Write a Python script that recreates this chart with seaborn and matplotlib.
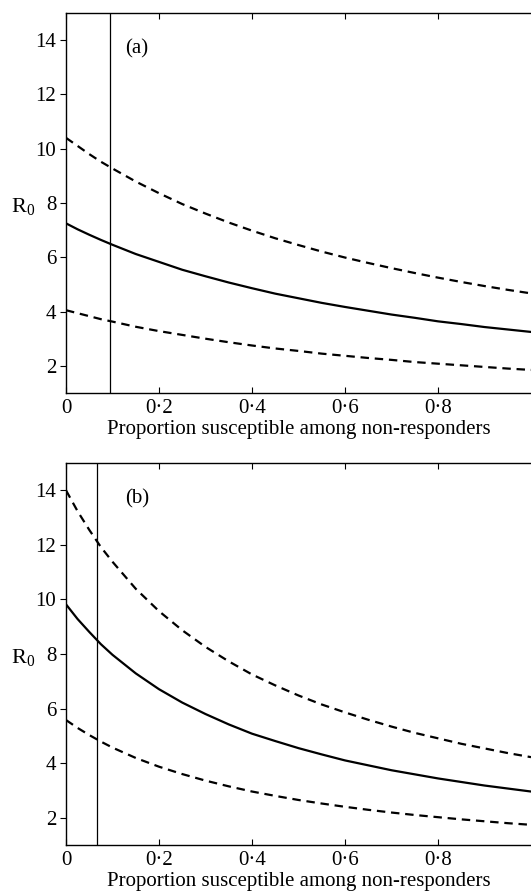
import numpy as np
import pandas as pd
import matplotlib
matplotlib.use("Agg")
import matplotlib.pyplot as plt
import seaborn as sns

# ---- data ----
x_vals = [0.0, 0.025, 0.05, 0.075, 0.1, 0.15, 0.2, 0.25, 0.3, 0.35, 0.4, 0.45, 0.5,
          0.55, 0.6, 0.65, 0.7, 0.75, 0.8, 0.85, 0.9, 0.95, 1.0]

a_central = [7.25, 7.03, 6.83, 6.64, 6.46, 6.12, 5.83, 5.54, 5.30, 5.07, 4.86, 4.66, 4.49,
             4.32, 4.17, 4.03, 3.89, 3.77, 3.64, 3.54, 3.43, 3.34, 3.25]
a_upper   = [10.4, 10.10, 9.80, 9.52, 9.27, 8.79, 8.36, 7.96, 7.61, 7.28, 6.98, 6.70, 6.45,
             6.21, 5.99, 5.79, 5.60, 5.42, 5.25, 5.09, 4.94, 4.80, 4.67]
a_lower   = [4.05, 3.94, 3.83, 3.72, 3.63, 3.44, 3.28, 3.14, 3.00, 2.87, 2.75, 2.64, 2.55,
             2.45, 2.37, 2.29, 2.22, 2.14, 2.08, 2.02, 1.96, 1.90, 1.85]
a_vline = 0.095

b_central = [9.82, 9.28, 8.81, 8.36, 7.97, 7.29, 6.71, 6.22, 5.80, 5.42, 5.08, 4.81, 4.55,
             4.32, 4.10, 3.92, 3.74, 3.59, 3.44, 3.31, 3.18, 3.07, 2.96]
b_upper   = [14.0, 13.23, 12.55, 11.92, 11.38, 10.39, 9.57, 8.87, 8.26, 7.73, 7.25, 6.85, 6.48,
             6.15, 5.86, 5.59, 5.34, 5.11, 4.91, 4.71, 4.54, 4.37, 4.22]
b_lower   = [5.58, 5.29, 5.03, 4.79, 4.57, 4.19, 3.87, 3.60, 3.36, 3.15, 2.96, 2.80, 2.65,
             2.52, 2.40, 2.29, 2.19, 2.10, 2.02, 1.94, 1.87, 1.80, 1.74]
b_vline = 0.067

x_ticks = [0, 0.2, 0.4, 0.6, 0.8]
x_tick_labels = ["0", "0\u00b72", "0\u00b74", "0\u00b76", "0\u00b78"]
y_ticks = [2, 4, 6, 8, 10, 12, 14]
x_label = "Proportion susceptible among non-responders"
y_label = r"$\mathrm{R}_0$"
panel_labels = ["(a)", "(b)"]

# ---- style ----
sns.set_theme(style="ticks")
plt.rcParams["font.family"] = ["Liberation Serif", "DejaVu Serif"]
plt.rcParams["mathtext.fontset"] = "custom"
plt.rcParams["mathtext.rm"] = "Liberation Serif"
plt.rcParams["mathtext.it"] = "Liberation Serif:italic"

FS = 15

fig = plt.figure(figsize=(5.31, 8.94), dpi=100)
left = 66 / 531
width = 1.0 - left
ax_a = fig.add_axes([left, 0.5604, width, 0.4251])
ax_b = fig.add_axes([left, 0.0548, width, 0.4273])

panels = [
    (ax_a, a_central, a_upper, a_lower, a_vline, panel_labels[0]),
    (ax_b, b_central, b_upper, b_lower, b_vline, panel_labels[1]),
]

for ax, cen, up, lo, vx, lab in panels:
    df = pd.DataFrame({"x": x_vals, "central": cen, "upper": up, "lower": lo})
    sns.lineplot(data=df, x="x", y="central", ax=ax, color="black", lw=1.6)
    sns.lineplot(data=df, x="x", y="upper", ax=ax, color="black", lw=1.6)
    ax.lines[-1].set_dashes((3.8, 2.6))
    sns.lineplot(data=df, x="x", y="lower", ax=ax, color="black", lw=1.6)
    ax.lines[-1].set_dashes((3.8, 2.6))
    ax.axvline(vx, color="black", lw=0.9)

    ax.set_xlim(0, 1.0)
    ax.set_ylim(1, 15)
    ax.set_xticks(x_ticks)
    ax.set_xticklabels(x_tick_labels)
    ax.set_yticks(y_ticks)
    ax.tick_params(axis="x", direction="in", top=True, bottom=True,
                   length=4, width=0.8, labelsize=FS, pad=4, colors="black")
    ax.tick_params(axis="y", direction="out", left=True, right=False,
                   length=4, width=0.8, labelsize=FS, pad=3, colors="black")
    for s in ["left", "bottom", "top"]:
        ax.spines[s].set_visible(True)
        ax.spines[s].set_color("black")
        ax.spines[s].set_linewidth(1.0)
    ax.spines["right"].set_visible(False)

    ax.set_xlabel(x_label, fontsize=FS, labelpad=2, color="black")
    ax.set_ylabel(y_label, fontsize=FS + 1, rotation=0, color="black", va="center")
    ax.yaxis.set_label_coords(-0.093, 0.49)
    ax.text(0.127, 0.905, lab, transform=ax.transAxes, fontsize=FS,
            ha="left", va="center", color="black")

fig.savefig("out.png", dpi=100)
